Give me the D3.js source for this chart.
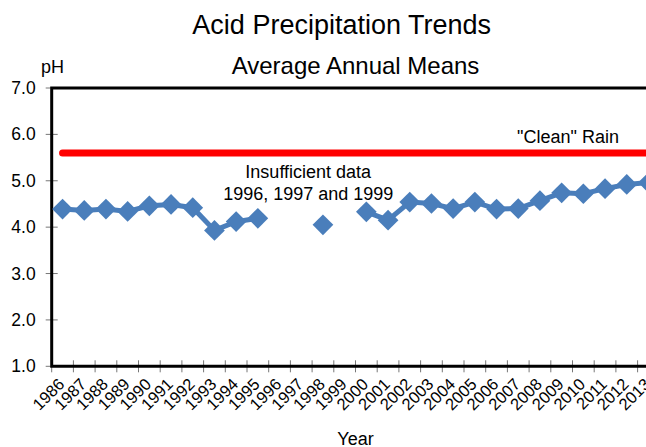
<!DOCTYPE html>
<html>
<head>
<meta charset="utf-8">
<script src="https://cdn.jsdelivr.net/npm/d3@7"></script>
<style>
  body { margin: 0; background: #fff; }
  svg { display: block; font-family: "Liberation Sans", Arial, sans-serif; }
</style>
</head>
<body>
<div id="chart"></div>
<script>
// Acid precipitation, annual mean pH
const years = ["1986","1987","1988","1989","1990","1991","1992","1993","1994","1995","1996","1997","1998","1999",
               "2000","2001","2002","2003","2004","2005","2006","2007","2008","2009","2010","2011","2012","2013"];
// null = insufficient data
const phValues = [4.39, 4.36, 4.39, 4.34, 4.46, 4.49, 4.42, 3.93, 4.12, 4.19, null, null, 4.05, null,
                  4.33, 4.15, 4.54, 4.51, 4.40, 4.54, 4.39, 4.40, 4.57, 4.74, 4.72, 4.83, 4.92, 4.96];
const cleanRain = 5.6;
const yTicks = [1, 2, 3, 4, 5, 6, 7];

const width = 646, height = 447;
const plotLeft = 51.7, plotRight = 659.3, plotTop = 88, plotBottom = 366.3;

const svg = d3.select("#chart").append("svg")
  .attr("width", width)
  .attr("height", height);

const x = d3.scaleBand().domain(years).range([plotLeft, plotRight]);
const y = d3.scaleLinear().domain([1, 7]).range([plotBottom, plotTop]);
const cx = d => x(d) + x.bandwidth() / 2;

const data = years.map((yr, i) => ({year: yr, v: phValues[i]}));

// titles
svg.append("text")
  .attr("x", 341.7).attr("y", 34)
  .attr("text-anchor", "middle")
  .style("font-size", "27px")
  .text("Acid Precipitation Trends");

svg.append("text")
  .attr("x", (plotLeft + plotRight) / 2).attr("y", 74)
  .attr("text-anchor", "middle")
  .style("font-size", "24px")
  .text("Average Annual Means");

svg.append("text")
  .attr("x", 41).attr("y", 73)
  .style("font-size", "18px")
  .text("pH");

// y axis
const yAxis = svg.append("g")
  .attr("transform", `translate(${plotLeft},0)`)
  .call(d3.axisLeft(y).tickValues(yTicks).tickFormat(d3.format(".1f")).tickSize(0).tickPadding(16));
yAxis.select(".domain").remove();
yAxis.selectAll("text").style("font-size", "17.5px").attr("fill", "#000");

svg.append("g").selectAll("line")
  .data(yTicks)
  .join("line")
  .attr("x1", plotLeft - 6).attr("x2", plotLeft + 6)
  .attr("y1", d => y(d)).attr("y2", d => y(d))
  .attr("stroke", "#777").attr("stroke-width", 1);

// x axis boundary ticks
svg.append("g").selectAll("line")
  .data(years.concat(["end"]))
  .join("line")
  .attr("x1", d => d === "end" ? plotRight : x(d))
  .attr("x2", d => d === "end" ? plotRight : x(d))
  .attr("y1", plotBottom - 6).attr("y2", plotBottom + 6)
  .attr("stroke", "#777").attr("stroke-width", 1);

svg.append("g").selectAll("text")
  .data(years)
  .join("text")
  .attr("transform", d => `translate(${cx(d) + 3},${plotBottom + 19}) rotate(-45)`)
  .attr("text-anchor", "end")
  .style("font-size", "16.5px")
  .text(d => d);

svg.append("text")
  .attr("x", (plotLeft + plotRight) / 2).attr("y", 445)
  .attr("text-anchor", "middle")
  .style("font-size", "18px")
  .text("Year");

// frame
svg.append("path")
  .attr("d", `M${plotRight},${plotTop}H${plotLeft}V${plotBottom}H${plotRight}`)
  .attr("fill", "none")
  .attr("stroke", "#000")
  .attr("stroke-width", 3);

// clean rain reference line
svg.append("line")
  .attr("x1", cx(years[0])).attr("x2", plotRight + 20)
  .attr("y1", y(cleanRain)).attr("y2", y(cleanRain))
  .attr("stroke", "#ff0000")
  .attr("stroke-width", 7)
  .attr("stroke-linecap", "round");

svg.append("text")
  .attr("x", x("2010") - 4.5).attr("y", y(cleanRain) - 10)
  .attr("text-anchor", "middle")
  .style("font-size", "18px")
  .text("\"Clean\" Rain");

const note = svg.append("text")
  .attr("text-anchor", "middle")
  .style("font-size", "18px");
note.append("tspan").attr("x", cx("1997") + 7).attr("y", y(5.06)).text("Insufficient data");
note.append("tspan").attr("x", cx("1997") + 7).attr("y", y(4.585)).text("1996, 1997 and 1999");

// pH series
svg.append("path")
  .datum(data)
  .attr("fill", "none")
  .attr("stroke", "#4a7ebb")
  .attr("stroke-width", 5)
  .attr("d", d3.line()
    .defined(d => d.v != null)
    .x(d => cx(d.year))
    .y(d => y(d.v)));

svg.append("g").selectAll("path")
  .data(data.filter(d => d.v != null))
  .join("path")
  .attr("transform", d => `translate(${cx(d.year)},${y(d.v)}) rotate(45)`)
  .attr("d", d3.symbol(d3.symbolSquare, 215))
  .attr("fill", "#4a7ebb");
</script>
</body>
</html>
